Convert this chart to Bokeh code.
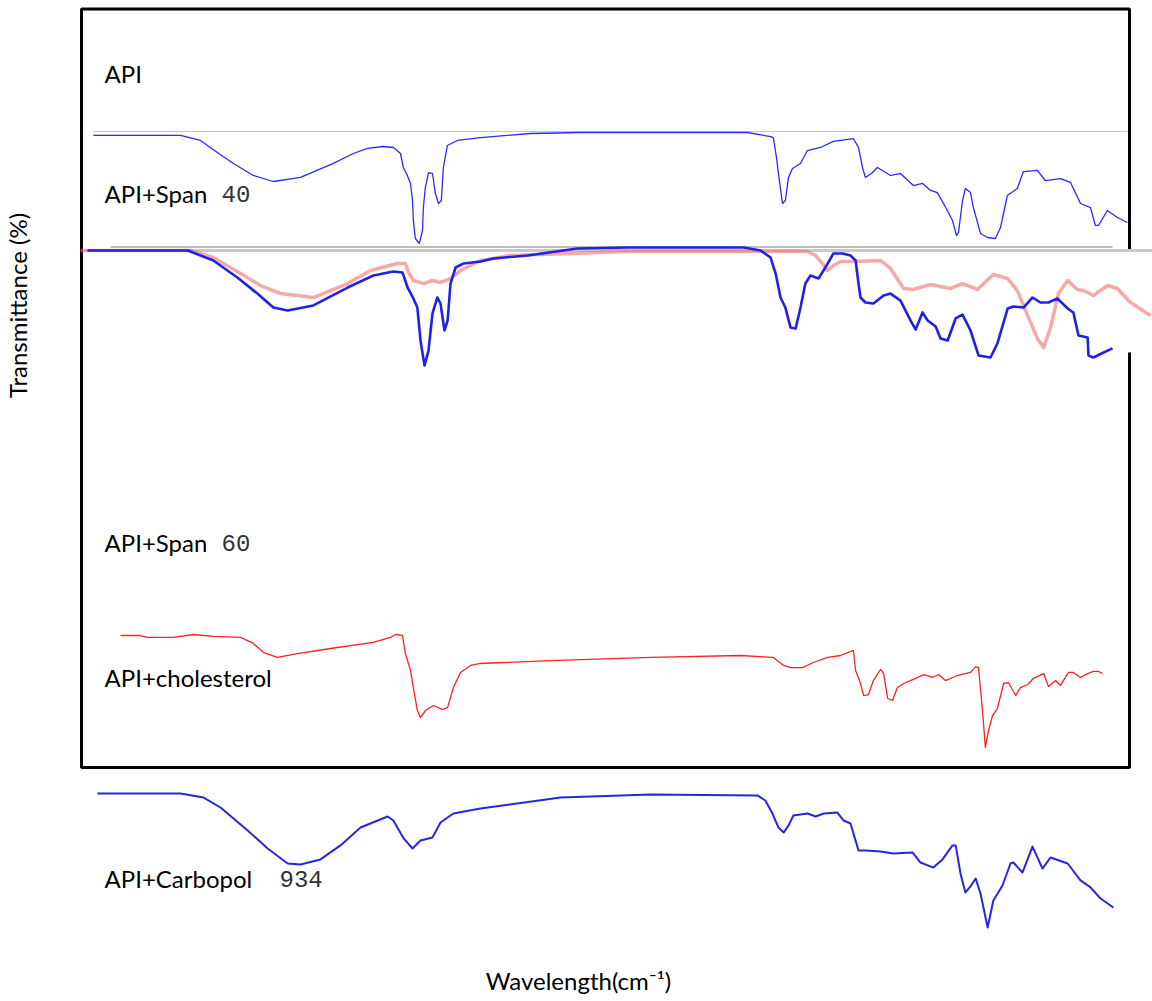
import numpy as np
from bokeh.plotting import figure
from bokeh.models import Range1d, Label, BoxAnnotation
from bokeh.embed import file_html
from bokeh.resources import INLINE

# ---------------- data: wavenumber (cm-1) and transmittance (%) ----------------
span40_wn = [3990, 3685, 3615, 3556, 3500, 3430, 3360, 3265, 3150, 3080, 3031, 2975, 2940, 2915,
             2905, 2891, 2880, 2873, 2870, 2863, 2849, 2838, 2835, 2828, 2817, 2803, 2793, 2782,
             2772, 2765, 2751, 2716, 2635, 2460, 2285, 1701, 1620, 1610, 1599, 1589, 1578, 1568,
             1557, 1543, 1515, 1491, 1445, 1400, 1330, 1312, 1298, 1288, 1277, 1263, 1246, 1200,
             1165, 1120, 1088, 1060, 1036, 1001, 983, 969, 962, 948, 938, 920, 910, 885, 861, 833,
             815, 791, 756, 735, 686, 658, 605, 570, 535, 500, 483, 472, 441, 406, 371]
span40_t = [97.9, 97.9, 94.3, 85.7, 77.9, 69.3, 65.0, 67.9, 77.9, 85.0, 88.6, 90.0, 89.3, 85.0,
            75.0, 69.3, 63.6, 51.4, 37.1, 24.3, 20.7, 30.0, 46.4, 60.7, 71.4, 70.7, 56.4, 49.3,
            51.4, 75.0, 90.7, 94.3, 96.4, 99.3, 100.0, 100.0, 97.1, 96.4, 82.1, 65.7, 49.3, 51.4,
            67.9, 74.3, 77.9, 87.1, 89.3, 93.6, 95.7, 89.3, 75.0, 67.9, 69.3, 71.4, 75.0, 69.3,
            70.7, 62.1, 63.6, 58.6, 57.1, 44.3, 37.1, 26.4, 28.6, 51.4, 60.0, 57.1, 46.4, 27.9, 25.0, 24.3,
            32.1, 55.0, 60.0, 72.1, 72.9, 65.7, 67.1, 64.3, 49.3, 46.4, 33.6, 33.6, 44.3, 39.3, 35.7]

span60_wn = [4010, 3660, 3570, 3486, 3416, 3360, 3310, 3220, 3100, 3010, 2940, 2908, 2890, 2870,
             2856, 2845, 2831, 2817, 2803, 2786, 2775, 2761, 2750, 2740, 2722, 2694, 2635, 2590,
             2470, 2296, 2120, 1714, 1655, 1620, 1602, 1585, 1568, 1550, 1532, 1515, 1498, 1480,
             1452, 1428, 1400, 1368, 1340, 1322, 1312, 1305, 1288, 1260, 1224, 1200, 1165, 1130,
             1112, 1088, 1070, 1042, 1025, 1000, 972, 948, 920, 892, 850, 826, 790, 770, 734, 703,
             675, 647, 616, 580, 560, 542, 510, 507, 490, 454, 423]
span60_t = [97.9, 97.9, 90.7, 78.6, 67.1, 57.1, 55.0, 58.6, 71.4, 80.0, 82.9, 82.1, 71.4, 63.6,
            57.1, 33.6, 15.7, 26.4, 52.9, 64.3, 60.0, 40.7, 47.9, 74.3, 85.7, 88.6, 90.0, 92.1,
            94.3, 99.3, 100.0, 100.0, 97.9, 92.9, 81.4, 64.3, 57.1, 42.9, 42.1, 57.1, 74.3, 80.0,
            77.9, 85.7, 95.7, 95.7, 94.3, 90.7, 74.3, 64.3, 60.7, 60.0, 65.7, 67.1, 62.1, 47.9,
            41.4, 53.6, 47.9, 43.6, 35.0, 33.6, 49.3, 52.1, 40.7, 22.9, 21.4, 31.4, 56.4, 57.9, 57.1, 64.3,
            60.7, 60.7, 63.6, 56.4, 53.6, 37.1, 35.7, 22.9, 21.4, 25.0, 27.9]

span60_ref_wn = [4035, 3650, 3570, 3475, 3405, 3335, 3220, 3100, 3020, 2926, 2898, 2887, 2870,
                 2834, 2803, 2775, 2740, 2705, 2635, 2530, 2320, 2120, 1490, 1462, 1438, 1420,
                 1400, 1375, 1330, 1235, 1200, 1154, 1120, 1060, 990, 948, 896, 840, 790, 756,
                 720, 686, 664, 640, 612, 580, 546, 524, 490, 440, 406, 360, 290]
span60_ref_t = [100.7, 100.7, 95.7, 84.3, 75.7, 70.0, 67.1, 77.1, 86.4, 91.4, 91.4, 85.0, 79.3,
                77.1, 79.3, 77.9, 80.7, 86.4, 93.6, 97.1, 98.6, 100.0, 100.0, 97.1, 91.4, 86.4,
                90.0, 92.9, 92.9, 93.6, 87.9, 73.6, 72.9, 76.4, 73.6, 77.1, 72.9, 83.6, 80.7, 72.1,
                54.3, 37.9, 31.4, 45.7, 70.0, 79.3, 72.9, 72.1, 68.6, 75.7, 73.6, 63.6, 54.3]

chol_wn = [3895, 3832, 3800, 3710, 3640, 3570, 3475, 3430, 3394, 3346, 3276, 3160, 3010, 2950,
           2932, 2908, 2898, 2880, 2870, 2856, 2845, 2828, 2800, 2768, 2750, 2730, 2705, 2670,
           2635, 2390, 2040, 1725, 1610, 1574, 1550, 1508, 1470, 1420, 1375, 1330, 1322, 1305,
           1294, 1277, 1260, 1235, 1224, 1210, 1193, 1176, 1154, 1120, 1084, 1053, 1032, 1008,
           966, 920, 902, 892, 878, 868, 857, 843, 826, 804, 787, 762, 745, 720, 700, 664, 647,
           622, 605, 577, 560, 535, 510, 490, 472, 458]
chol_t = [99.3, 99.3, 97.9, 97.9, 100.0, 98.6, 97.9, 93.6, 87.1, 83.6, 86.4, 90.0, 94.3, 97.9,
          100.0, 99.3, 86.4, 74.3, 62.1, 45.7, 40.7, 45.7, 49.3, 46.4, 47.9, 62.1, 72.9, 77.9,
          79.3, 81.4, 83.6, 85.0, 83.6, 77.9, 76.4, 76.4, 80.0, 83.6, 85.0, 88.6, 74.3, 65.0,
          56.4, 57.1, 67.1, 75.0, 72.1, 54.3, 52.9, 62.1, 65.0, 67.9, 71.4, 69.3, 71.4, 67.1,
          70.7, 72.9, 77.1, 76.4, 45.7, 19.3, 31.4, 42.1, 47.1, 65.0, 65.7, 56.4, 62.1, 64.3, 68.6, 72.1, 62.9,
          67.1, 63.6, 72.9, 72.9, 69.3, 72.1, 73.6, 73.6, 72.1]

carb_wn = [3976, 3685, 3604, 3545, 3450, 3380, 3310, 3265, 3195, 3125, 3055, 2960, 2940, 2904,
           2873, 2845, 2803, 2775, 2730, 2635, 2355, 2040, 1666, 1638, 1613, 1592, 1574, 1557,
           1540, 1490, 1462, 1434, 1386, 1364, 1340, 1312, 1288, 1235, 1190, 1123, 1095, 1050,
           1018, 983, 972, 955, 938, 920, 902, 885, 860, 840, 808, 780, 770, 738, 703, 668, 640,
           580, 535, 500, 465, 420]
carb_t = [100.0, 100.0, 97.1, 90.0, 73.6, 60.7, 50.0, 49.3, 52.9, 62.9, 75.7, 83.6, 80.7, 67.9,
          60.7, 66.4, 68.6, 79.3, 85.7, 89.3, 97.1, 99.3, 98.6, 95.0, 85.7, 75.7, 72.1, 77.1,
          84.3, 85.7, 83.6, 85.7, 86.4, 80.7, 78.6, 59.3, 59.3, 58.6, 57.1, 57.9, 50.7, 47.1,
          52.9, 62.9, 62.9, 42.9, 29.3, 33.6, 39.3, 28.6, 4.3, 23.6, 34.3, 50.0, 50.7, 43.6, 62.1,
          46.4, 54.3, 50.0, 37.9, 32.9, 25.0, 18.6]

labels_main = ["API", "API+Span", "API+Span", "API+cholesterol", "API+Carbopol"]
labels_num = ["", "40", "60", "", "934"]

# ---------------- layout ----------------
W, H = 1152, 1001
WN0, WN_PER_PX = 4315.0, 3.5          # wavenumber at left edge, cm-1 per pixel
T_PX = 1.4                            # pixels per % transmittance
TXT_SHIFT = 11                        # label baseline correction (px)


def wn_at(px):
    return WN0 - WN_PER_PX * px


def row_to_y(row):
    return H - row


def stack(t, top_row):
    return row_to_y(top_row) - (100.0 - np.asarray(t, dtype=float)) * T_PX


p = figure(width=W, height=H, output_backend="svg", toolbar_location=None,
           x_range=Range1d(wn_at(0), wn_at(W)), y_range=Range1d(0, H),
           x_axis_location=None, y_axis_location=None, min_border=0,
           outline_line_color=None, background_fill_color="white",
           border_fill_color="white")
p.grid.visible = False

# frame
frame = BoxAnnotation(left=wn_at(81), right=wn_at(1129), top=row_to_y(8.5), bottom=row_to_y(767),
                      fill_alpha=0, line_color="black", line_alpha=1, line_width=3, level="underlay")
p.add_layout(frame)
gap = BoxAnnotation(left=wn_at(1120), right=wn_at(1140), top=row_to_y(249), bottom=row_to_y(352),
                    fill_color="white", fill_alpha=1, line_alpha=0, level="underlay")
p.add_layout(gap)

# separator lines of the collage
p.segment(x0=[wn_at(93)], y0=[row_to_y(131)], x1=[wn_at(1127)], y1=[row_to_y(131)],
          line_color="#c4c4c4", line_width=1)
p.segment(x0=[wn_at(110)], y0=[row_to_y(246.5)], x1=[wn_at(1112)], y1=[row_to_y(246.5)],
          line_color="#7a7a7a", line_width=1)
p.segment(x0=[wn_at(85)], y0=[row_to_y(250)], x1=[wn_at(W)], y1=[row_to_y(250)],
          line_color="#c8c8c8", line_width=3)

# spectra
p.line(span60_ref_wn, stack(span60_ref_t, 251), line_color="#f07070", line_alpha=0.6,
       line_width=3.5, line_join="round")
p.line(span40_wn, stack(span40_t, 132), line_color="#2a2aff", line_width=1.3, line_join="round")
p.line(span60_wn, stack(span60_t, 247), line_color="#2020e6", line_width=2.6, line_join="round")
p.line(chol_wn, stack(chol_t, 634), line_color="#ff2020", line_width=1.3, line_join="round")
p.line(carb_wn, stack(carb_t, 793), line_color="#2626dd", line_width=2, line_join="round")

# labels
label_rows = [84, 204, 553, 688, 889]
num_px = [0, 221, 221, 0, 279]
for name, num, row, npx in zip(labels_main, labels_num, label_rows, num_px):
    p.add_layout(Label(x=wn_at(104), y=row_to_y(row - TXT_SHIFT), text=name, text_font="Lato",
                       text_font_size="24px", text_color="black", text_baseline="alphabetic",
                       text_align="left"))
    if num:
        p.add_layout(Label(x=wn_at(npx), y=row_to_y(row - TXT_SHIFT), text=num,
                           text_font="Liberation Mono", text_font_size="24px",
                           text_color="#333333", text_baseline="alphabetic", text_align="left"))

p.add_layout(Label(x=wn_at(578), y=row_to_y(991 - TXT_SHIFT), text="Wavelength(cm\u207b\u00b9)",
                   text_font="Lato", text_font_size="24px", text_color="black",
                   text_baseline="alphabetic", text_align="center"))
p.add_layout(Label(x=wn_at(28 - TXT_SHIFT), y=row_to_y(305), text="Transmittance (%)",
                   text_font="Lato", text_font_size="24px", text_color="black",
                   text_baseline="alphabetic", text_align="center", angle=np.pi / 2))

open("out.html", "w").write(file_html(p, INLINE))
